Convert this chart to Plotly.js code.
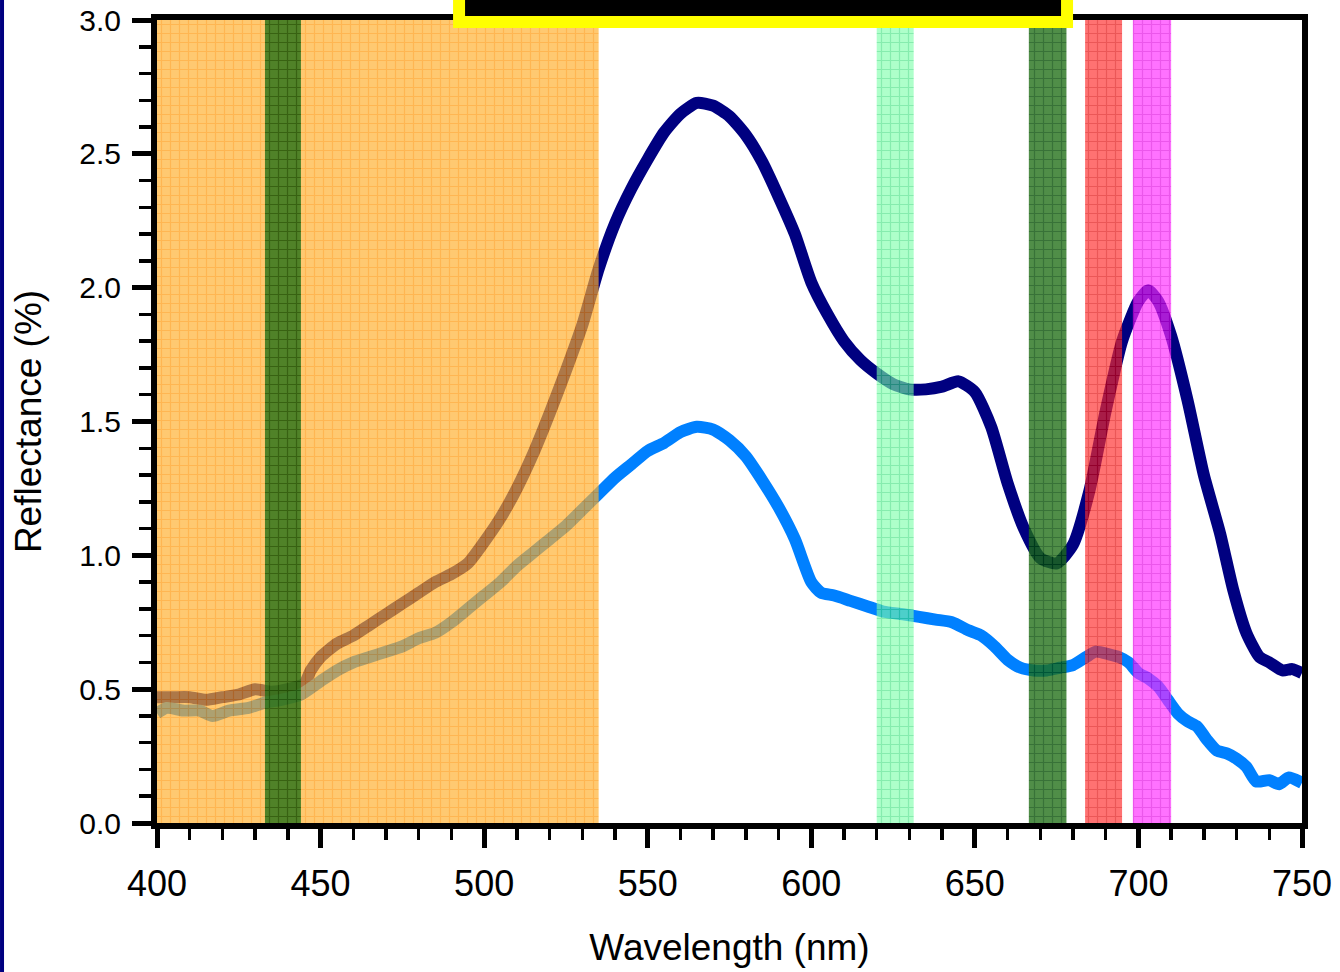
<!DOCTYPE html>
<html>
<head>
<meta charset="utf-8">
<script src="https://cdn.plot.ly/plotly-3.0.1.min.js"></script>
<style>html,body{margin:0;padding:0;background:#fff;}#chart{width:1340px;height:972px;}</style>
</head>
<body>
<div id="chart"></div>
<script>
// ---- data ----
const wlDark = [400,405,410,415,420,425,430,435,440,445,447,450,455,460,465,470,475,480,485,490,495,500,505,510,515,520,525,530,535,540,545,550,555,560,565,570,575,580,585,590,595,600,605,610,615,620,625,630,635,640,645,650,655,660,665,670,675,680,685,690,695,700,703,706,710,715,720,725,729,733,737,740,744,747,750];
const reflDark = [0.47,0.47,0.47,0.46,0.47,0.48,0.50,0.49,0.50,0.52,0.57,0.62,0.67,0.70,0.74,0.78,0.82,0.86,0.90,0.93,0.97,1.05,1.14,1.25,1.38,1.53,1.69,1.86,2.07,2.24,2.37,2.48,2.58,2.65,2.69,2.68,2.64,2.57,2.47,2.34,2.20,2.02,1.90,1.80,1.73,1.68,1.64,1.62,1.62,1.63,1.65,1.61,1.48,1.27,1.10,0.99,0.97,1.04,1.24,1.54,1.80,1.95,1.99,1.95,1.82,1.58,1.30,1.08,0.87,0.71,0.62,0.60,0.57,0.575,0.56];

const wlLight = [400,403,408,413,417,422,428,433,438,444,450,455,460,465,470,475,480,485,490,495,500,505,510,515,520,525,530,535,540,545,550,555,560,565,570,575,580,585,590,595,600,603,607,612,617,622,628,633,638,643,648,652,656,660,664,668,672,676,680,684,687,691,694,697,700,703,706,709,712,715,718,721,724,727,730,733,736,740,743,746,750];
const reflLight = [0.41,0.43,0.42,0.42,0.40,0.42,0.43,0.45,0.46,0.48,0.53,0.57,0.60,0.62,0.64,0.66,0.69,0.71,0.75,0.80,0.85,0.90,0.96,1.01,1.06,1.11,1.17,1.23,1.29,1.34,1.39,1.42,1.46,1.48,1.47,1.43,1.37,1.28,1.18,1.06,0.90,0.86,0.85,0.83,0.81,0.79,0.78,0.77,0.76,0.75,0.72,0.70,0.66,0.61,0.58,0.57,0.57,0.58,0.59,0.62,0.64,0.63,0.62,0.60,0.56,0.54,0.51,0.46,0.41,0.38,0.36,0.31,0.27,0.26,0.24,0.21,0.155,0.16,0.145,0.17,0.15];

const bandStart = [400, 433, 620, 666.5, 683.7, 698.3];
const bandEnd   = [535, 444, 631.3, 678, 695, 710];
const bandFills = ['#FFB02E', '#1E6E14', '#7CFFAA', '#1E6E14', '#FF2A2A', '#FF2AFF'];
const bandLines = ['#FF9400', '#004A00', '#3CE07C', '#004A00', '#E00000', '#E000E0'];
const bandOpacity = [0.68, 0.78, 0.62, 0.78, 0.66, 0.66];
const yTop = 3;

const xTicks = [400,450,500,550,600,650,700,750];
const yTicks = [0.0,0.5,1.0,1.5,2.0,2.5,3.0];

// ---- traces ----
const traces = [];
traces.push({
  type: 'scatter', mode: 'lines', x: wlDark, y: reflDark,
  line: {color: '#000080', width: 12, shape: 'spline', smoothing: 0.6},
  xaxis: 'x', yaxis: 'y', hoverinfo: 'skip'
});
traces.push({
  type: 'scatter', mode: 'lines', x: wlLight, y: reflLight,
  line: {color: '#0080FF', width: 12, shape: 'spline', smoothing: 0.6},
  xaxis: 'x', yaxis: 'y', hoverinfo: 'skip'
});
for (let i = 0; i < bandStart.length; i++) {
  traces.push({
    type: 'bar',
    x: [(bandStart[i] + bandEnd[i]) / 2],
    y: [yTop],
    base: [0],
    width: [bandEnd[i] - bandStart[i]],
    xaxis: 'x2', yaxis: 'y2',
    opacity: bandOpacity[i],
    marker: {
      color: bandFills[i],
      line: {width: 0},
      pattern: {shape: '+', fgcolor: bandLines[i], bgcolor: bandFills[i], size: 9, solidity: 0.25}
    },
    hoverinfo: 'skip'
  });
}

const fontFam = '"Liberation Sans", Arial, sans-serif';

const layout = {
  width: 1340, height: 972,
  margin: {l: 157, r: 38, t: 20, b: 149},
  paper_bgcolor: '#ffffff', plot_bgcolor: '#ffffff',
  showlegend: false,
  barmode: 'overlay',
  font: {family: fontFam, color: '#000'},
  xaxis: {
    range: [400, 750], tickvals: xTicks, ticktext: xTicks.map(String),
    showgrid: false, zeroline: false,
    showline: true, linecolor: '#000', linewidth: 6, mirror: true,
    ticks: 'outside', ticklen: 19, tickwidth: 5, tickcolor: '#000',
    minor: {dtick: 10, ticks: 'outside', ticklen: 11, tickwidth: 3.5, tickcolor: '#000', showgrid: false},
    tickfont: {size: 36, family: fontFam, color: '#000'},
    ticklabelstandoff: 5,
    title: {text: 'Wavelength (nm)', font: {size: 37, family: fontFam, color: '#000'}, standoff: 33},
    automargin: false
  },
  yaxis: {
    range: [0, 3], tickvals: yTicks, ticktext: yTicks.map(v => v.toFixed(1)),
    showgrid: false, zeroline: false,
    showline: true, linecolor: '#000', linewidth: 6, mirror: true,
    ticks: 'outside', ticklen: 19, tickwidth: 5, tickcolor: '#000',
    minor: {dtick: 0.1, ticks: 'outside', ticklen: 12, tickwidth: 3.5, tickcolor: '#000', showgrid: false},
    tickfont: {size: 30, family: fontFam, color: '#000'},
    ticklabelstandoff: 5,
    title: {text: 'Reflectance (%)', font: {size: 37, family: fontFam, color: '#000'}, standoff: 28},
    automargin: false
  },
  xaxis2: {range: [400, 750], overlaying: 'x', visible: false, showgrid: false, zeroline: false},
  yaxis2: {range: [0, 3], overlaying: 'y', visible: false, showgrid: false, zeroline: false},
  shapes: [
    {type: 'rect', xref: 'paper', yref: 'paper', x0: -0.1371, x1: -0.1336, y0: -0.2, y1: 1.1,
     fillcolor: '#000080', line: {width: 0}, layer: 'above'},
    {type: 'rect', xref: 'paper', yref: 'paper', x0: 0.2638, x1: 0.7948, y0: 0.9975, y1: 1.1,
     fillcolor: '#000000', line: {color: '#FFFF00', width: 12}, layer: 'above'}
  ]
};

Plotly.newPlot('chart', traces, layout, {displayModeBar: false, staticPlot: true});
</script>
</body>
</html>
